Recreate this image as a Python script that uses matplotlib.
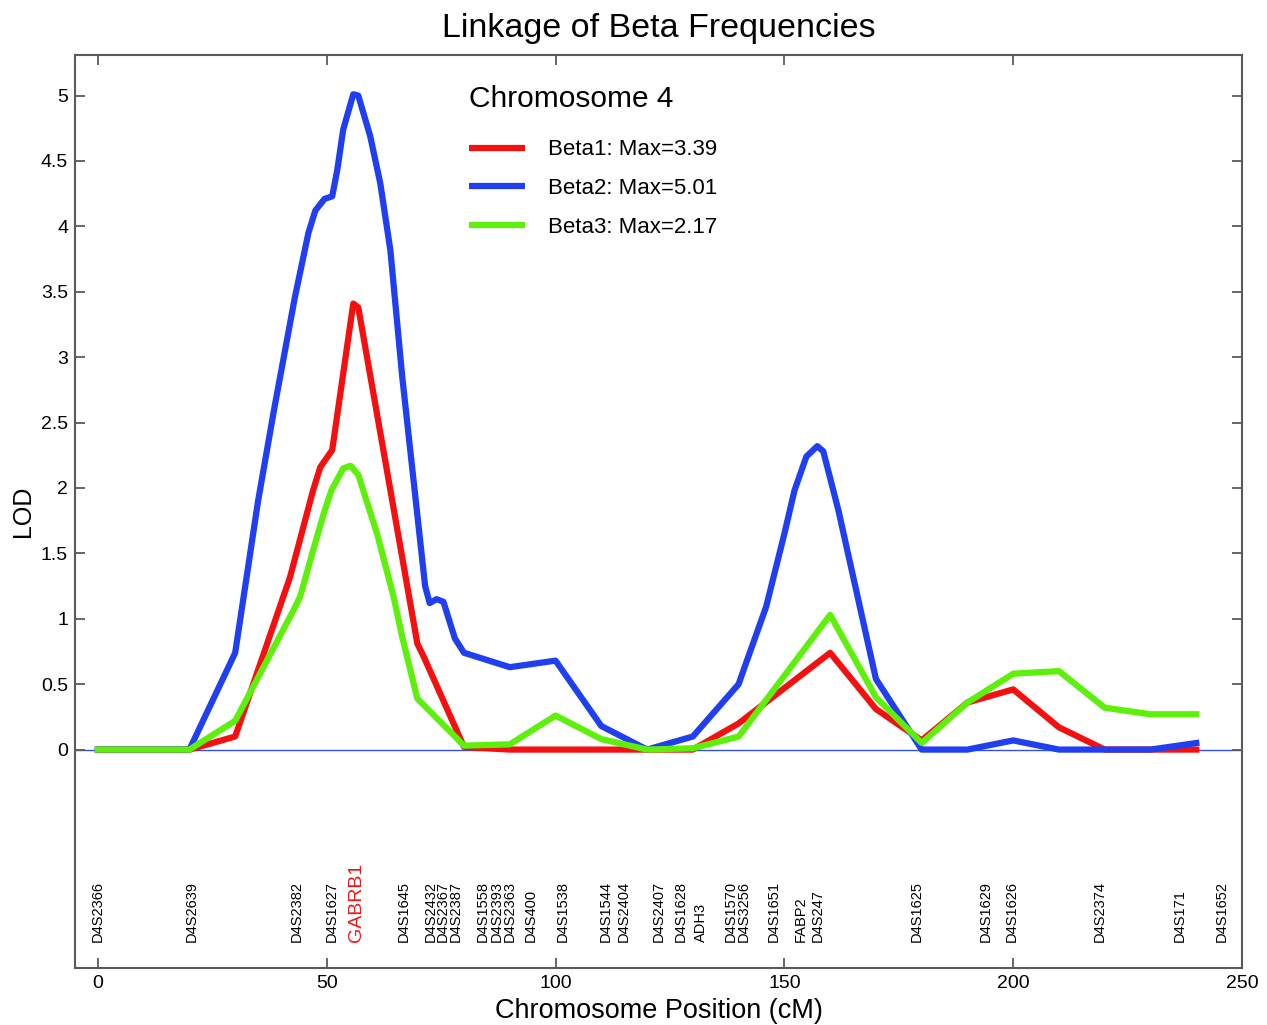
import matplotlib
matplotlib.use("Agg")
import matplotlib.pyplot as plt
from matplotlib.ticker import FuncFormatter, MultipleLocator

plt.rcParams['font.family'] = ['Liberation Sans', 'DejaVu Sans']

# LOD curves (position in cM, LOD)
beta1_pos = [0, 20, 30, 42, 47, 48.6, 51.2, 55.8, 56.9, 69.8, 71.2, 80, 90, 100, 110,
             120, 130, 140, 150, 160, 170, 180, 190, 200, 210, 220, 230, 240]
beta1_lod = [0, 0, 0.1, 1.32, 1.98, 2.16, 2.29, 3.41, 3.38, 0.81, 0.71, 0.02, 0, 0, 0,
             0, 0, 0.2, 0.47, 0.74, 0.31, 0.07, 0.36, 0.46, 0.17, 0, 0, 0]

beta2_pos = [0, 20, 30, 35, 38.5, 43, 46, 47.5, 49.5, 51.2, 52.3, 53.6, 55.8, 56.9,
             59.5, 61.7, 63.9, 66.5, 71.5, 72.5, 74, 75.5, 78, 80, 90, 100, 110, 120,
             130, 140, 141, 146, 150, 152.2, 154.8, 157.2, 158.5, 161.8, 170, 180,
             190, 200, 210, 220, 230, 240]
beta2_lod = [0, 0, 0.74, 1.9, 2.6, 3.45, 3.95, 4.12, 4.21, 4.23, 4.43, 4.74, 5.01, 5.0,
             4.69, 4.33, 3.82, 2.85, 1.25, 1.12, 1.15, 1.13, 0.85, 0.74, 0.63, 0.68, 0.18, 0.0,
             0.1, 0.5, 0.6, 1.09, 1.65, 1.98, 2.24, 2.32, 2.28, 1.83, 0.54, 0.0,
             0.0, 0.07, 0.0, 0.0, 0.0, 0.05]

beta3_pos = [0, 20, 30, 43.1, 44.2, 47, 49.3, 51, 53.6, 55.2, 56.9, 61, 64.6, 66.5, 69.8,
             80, 90, 100, 110, 120, 130, 140, 160, 170, 180, 190, 200, 210, 220, 230, 240]
beta3_lod = [0, 0, 0.22, 1.09, 1.17, 1.52, 1.8, 1.98, 2.15, 2.17, 2.1, 1.65, 1.17, 0.86, 0.39,
             0.03, 0.04, 0.26, 0.08, 0, 0.01, 0.1, 1.03, 0.4, 0.05, 0.36, 0.58, 0.6, 0.32, 0.27, 0.27]

series_labels = ['Beta1: Max=3.39', 'Beta2: Max=5.01', 'Beta3: Max=2.17']
series_colors = ['#f51010', '#1f3ff0', '#5cf00a']

# marker map along the chromosome
marker_names = ['D4S2366', 'D4S2639', 'D4S2382', 'D4S1627', 'GABRB1', 'D4S1645', 'D4S2432',
                'D4S2367', 'D4S2387', 'D4S1558', 'D4S2393', 'D4S2363', 'D4S400', 'D4S1538',
                'D4S1544', 'D4S2404', 'D4S2407', 'D4S1628', 'ADH3', 'D4S1570', 'D4S3256',
                'D4S1651', 'FABP2', 'D4S247', 'D4S1625', 'D4S1629', 'D4S1626', 'D4S2374',
                'D4S171', 'D4S1652']
marker_pos = [0, 20.6, 43.4, 51, 56.5, 66.8, 72.7, 75.4, 78.2, 84.2, 87.1, 90.1, 94.5, 101.6,
              110.9, 114.9, 122.6, 127.3, 131.7, 138.3, 141.2, 147.6, 153.5, 157.2, 179,
              193.9, 199.6, 218.9, 236.4, 245.5]
gene = 'GABRB1'

fig = plt.figure(figsize=(12.67, 10.25), dpi=100)
ax = fig.add_axes([0.0592, 0.0556, 0.9211, 0.8907])

ax.axhline(0, color='#3050e0', lw=1.0, zorder=1)
for pos, lod, lab, col in zip([beta1_pos, beta2_pos, beta3_pos],
                              [beta1_lod, beta2_lod, beta3_lod],
                              series_labels, series_colors):
    ax.plot(pos, lod, color=col, lw=4.5, label=lab, solid_joinstyle='round', zorder=3)

for name, p in zip(marker_names, marker_pos):
    if name == gene:
        ax.text(p, -1.47, name, rotation=90, ha='center', va='bottom',
                fontsize=14, color='#f01818')
    else:
        ax.text(p, -1.47, name, rotation=90, ha='center', va='bottom',
                fontsize=10.5, color='black')

ax.set_xlim(-5, 250)
ax.set_ylim(-1.67, 5.31)
ax.xaxis.set_major_locator(MultipleLocator(50))
ax.set_yticks([i * 0.5 for i in range(11)])
ax.yaxis.set_major_formatter(FuncFormatter(lambda v, _: '%g' % v))

for s in ax.spines.values():
    s.set_color('#5a5a5a')
    s.set_linewidth(1.5)
ax.tick_params(direction='in', length=7, width=1.3, color='#5a5a5a',
               top=True, right=True, labelsize=14, pad=5)

ax.set_title('Linkage of Beta Frequencies', fontsize=24.5, pad=13)
ax.set_xlabel('Chromosome Position (cM)', fontsize=19.5, labelpad=4)
ax.set_ylabel('LOD', fontsize=18, labelpad=4)

ax.text(0.3376, 0.952, 'Chromosome 4', transform=ax.transAxes,
        fontsize=21.5, ha='left', va='center')
leg = ax.legend(loc='upper left', bbox_to_anchor=(0.3376, 0.9075), frameon=False,
                fontsize=16, handlelength=2.5, handletextpad=1.05, labelspacing=0.8,
                borderpad=0, borderaxespad=0)
for h in leg.legend_handles:
    h.set_solid_capstyle('butt')

fig.savefig('out.png', dpi=100)
